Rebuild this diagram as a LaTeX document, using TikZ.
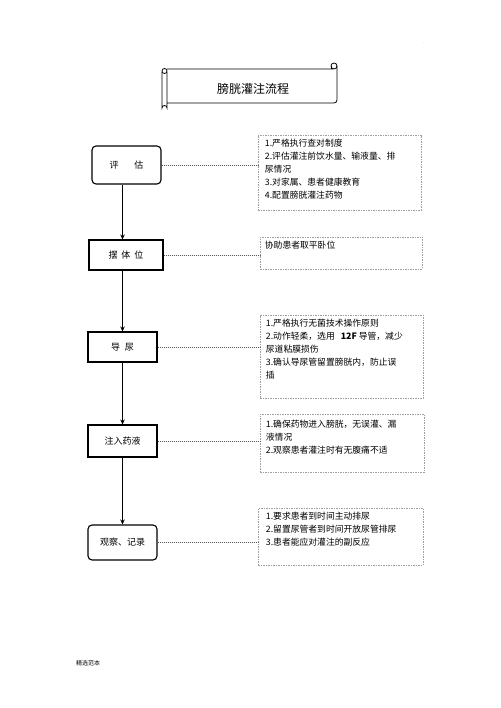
\documentclass[tikz,border=0pt]{standalone}
\usepackage{fontspec}
\setmainfont{Noto Sans CJK SC}
\usetikzlibrary{arrows.meta}
\begin{document}
\begin{tikzpicture}[x=1pt,y=-1pt,
 stepbox/.style={draw, line width=1.1pt, inner sep=0pt, font=\fontsize{9}{11}\selectfont},
 notebox/.style={draw=gray!75, dash pattern=on 1.5pt off 1pt, line width=0.6pt, inner sep=0pt},
 notetext/.style={anchor=north west, align=left, inner sep=0pt, font=\fontsize{8.8}{13}\selectfont},
 link/.style={draw=gray!70!black, dash pattern=on 1pt off 1pt, line width=0.9pt},
 flow/.style={-{Stealth[length=5pt,width=4.5pt]}, line width=1pt}]
\useasboundingbox[fill=white] (0,0) rectangle (500,708);

% title scroll
\draw[line width=0.8pt] (167,69) -- (333,69)
  (337,66) -- (337,100) arc[start angle=0,end angle=90,radius=3] -- (167,103)
  (162,72) -- (162,108) arc[start angle=180,end angle=360,radius=2.5] -- (167,72);
\draw[line width=0.8pt] (164.5,71) circle[radius=2.5];
\draw[line width=0.8pt] (334,66) circle[radius=3];
\draw[line width=0.8pt] (331,66) -- (331,69);
\node[font=\fontsize{12}{14}\selectfont] (title) at (253,89) {膀胱灌注流程};

\node[font=\fontsize{5}{6}\selectfont, text=gray] (dot) at (424,43) {.};

% steps
\node[stepbox, rounded corners=4pt, minimum width=69pt, minimum height=38pt] (e1) at (126.5,165) {评\hspace{16pt}估};
\node[stepbox, minimum width=74pt, minimum height=30pt] (e2) at (126,255) {摆\hspace{4pt}体\hspace{4pt}位};
\node[stepbox, minimum width=69pt, minimum height=30pt] (e3) at (122.5,347) {导\hspace{5pt}尿};
\node[stepbox, minimum width=69pt, minimum height=32pt] (e4) at (122.5,441) {注入药液};
\node[stepbox, rounded corners=4pt, minimum width=69pt, minimum height=35pt] (e5) at (122.5,542.5) {观察、记录};

% notes
\node[notebox, minimum width=163pt, minimum height=75pt] (n1) at (339.5,172.5) {};
\node[notebox, minimum width=162pt, minimum height=32pt] (n2) at (341,253) {};
\node[notebox, minimum width=163pt, minimum height=83pt] (n3) at (341.5,356.5) {};
\node[notebox, minimum width=164pt, minimum height=58pt] (n4) at (342,443) {};
\node[notebox, minimum width=165pt, minimum height=57pt] (n5) at (340.5,536.5) {};

\node[notetext] (t1) at ([shift={(7,4)}]n1.north west) {1.严格执行查对制度\\2.评估灌注前饮水量、输液量、排\\尿情况\\3.对家属、患者健康教育\\4.配置膀胱灌注药物};
\node[notetext] (t2) at ([shift={(5,4)}]n2.north west) {协助患者取平卧位};
\node[notetext] (t3) at ([shift={(6,4)}]n3.north west) {1.严格执行无菌技术操作原则\\2.动作轻柔，选用\hspace{6pt}\textbf{12F} 导管，减少\\尿道粘膜损伤\\3.确认导尿管留置膀胱内，防止误\\插};
\node[notetext] (t4) at ([shift={(6,6)}]n4.north west) {1.确保药物进入膀胱，无误灌、漏\\液情况\\2.观察患者灌注时有无腹痛不适};
\node[notetext] (t5) at ([shift={(8,4)}]n5.north west) {1.要求患者到时间主动排尿\\2.留置尿管者到时间开放尿管排尿\\3.患者能应对灌注的副反应};

% flow arrows
\draw[flow] (e1.south -| e3.north) -- (e2.north -| e3.north);
\draw[flow] (e2.south -| e3.north) -- (e3.north);
\draw[flow] (e3.south) -- (e4.north);
\draw[flow] (e4.south) -- (e5.north);

% dotted links
\draw[link] (e1.east) -- (n1.west |- e1.east);
\draw[link] (e2.east) -- (n2.west |- e2.east);
\draw[link] (e3.east) -- (n3.west |- e3.east);
\draw[link] (e4.east) -- (n4.west |- e4.east);
\draw[link] (e5.east) -- (n5.west |- e5.east);

\node[font=\fontsize{6}{7}\selectfont] (foot) at (88,663) {精选范本};
\end{tikzpicture}
\end{document}
